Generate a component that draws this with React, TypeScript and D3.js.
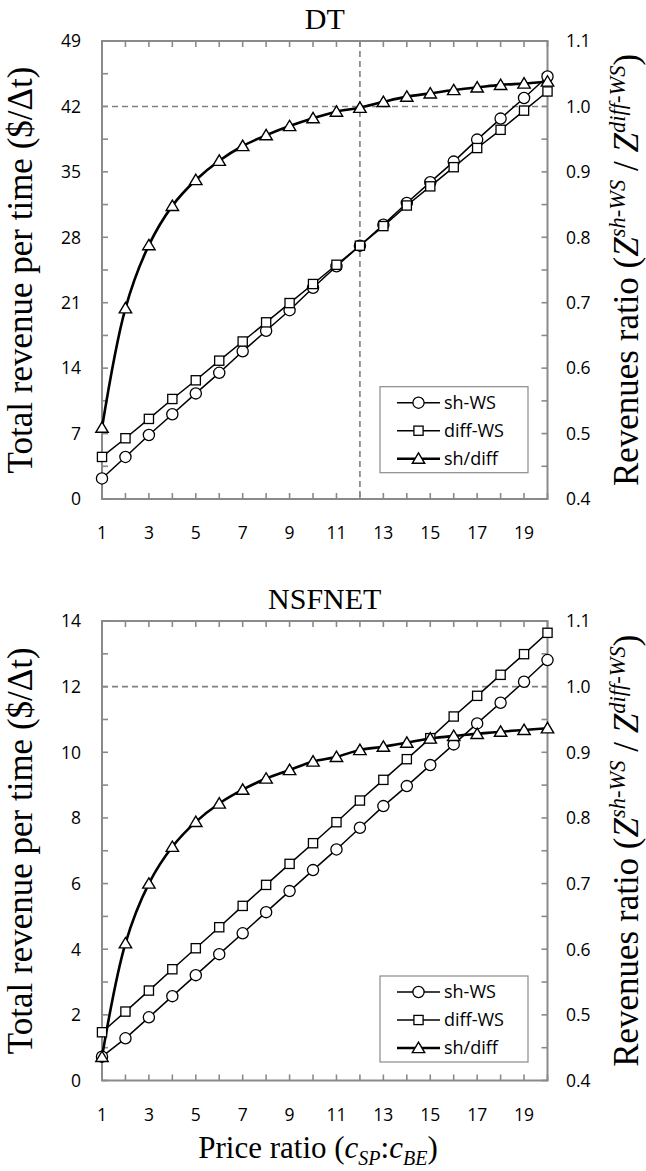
import React from "react";
import * as d3 from "d3";

const priceRatio = [1, 2, 3, 4, 5, 6, 7, 8, 9, 10, 11, 12, 13, 14, 15, 16, 17, 18, 19, 20];
const xTickLabels = [1, 3, 5, 7, 9, 11, 13, 15, 17, 19];

const dtShWS = [2.2, 4.5, 6.85, 9.07, 11.3, 13.5, 15.8, 18.0, 20.2, 22.6, 24.9, 27.1, 29.35, 31.67, 33.9, 36.1, 38.45, 40.7, 42.9, 45.2];
const dtDiffWS = [4.5, 6.5, 8.57, 10.7, 12.7, 14.8, 16.85, 18.9, 20.96, 23.0, 25.06, 27.1, 29.2, 31.4, 33.45, 35.5, 37.55, 39.5, 41.55, 43.6];
const dtRatio = [0.509, 0.6915, 0.788, 0.848, 0.8875, 0.917, 0.9395, 0.956, 0.97, 0.982, 0.992, 0.998, 1.007, 1.015, 1.02, 1.025, 1.029, 1.033, 1.035, 1.038];

const nsfShWS = [0.725, 1.285, 1.925, 2.57, 3.21, 3.85, 4.485, 5.13, 5.77, 6.41, 7.04, 7.7, 8.36, 8.97, 9.61, 10.24, 10.88, 11.51, 12.15, 12.81];
const nsfDiffWS = [1.47, 2.1, 2.74, 3.39, 4.03, 4.67, 5.32, 5.96, 6.6, 7.23, 7.87, 8.53, 9.16, 9.79, 10.43, 11.09, 11.72, 12.36, 12.99, 13.64];
const nsfRatio = [0.436, 0.609, 0.7, 0.756, 0.794, 0.822, 0.843, 0.86, 0.873, 0.886, 0.893, 0.9035, 0.9085, 0.9146, 0.921, 0.925, 0.928, 0.9314, 0.934, 0.9366];

const dtLeftTicks = [0, 7, 14, 21, 28, 35, 42, 49];
const nsfLeftTicks = [0, 2, 4, 6, 8, 10, 12, 14];
const rightTicks = [0.4, 0.5, 0.6, 0.7, 0.8, 0.9, 1.0, 1.1];
const legendLabels = ["sh-WS", "diff-WS", "sh/diff"];

const AXIS = "#8a8a8a";
const DASH = "#7f7f7f";
const SANS = "'Open Sans', 'Noto Sans', sans-serif";
const SERIF = "'Liberation Serif', 'Times New Roman', serif";

function Marker({ kind, x, y }: { kind: string; x: number; y: number }) {
  if (kind === "circle") return <circle cx={x} cy={y} r={5.6} fill="#fff" stroke="#000" strokeWidth={1.3} />;
  if (kind === "square") return <rect x={x - 4.6} y={y - 4.6} width={9.2} height={9.2} fill="#fff" stroke="#000" strokeWidth={1.3} />;
  return <path d={`M${x},${y - 5.8}L${x + 6.2},${y + 4.6}L${x - 6.2},${y + 4.6}Z`} fill="#fff" stroke="#000" strokeWidth={1.4} />;
}

type PanelProps = {
  title: string;
  top: number;
  bottom: number;
  leftMax: number;
  leftTicks: number[];
  leftMinorStep: number;
  sh: number[];
  diff: number[];
  ratio: number[];
  vLineAt: number | null;
  hLineAt: number;
  legendTop: number;
};

function Panel(p: PanelProps) {
  const left = 102;
  const right = 547.5;
  const x = d3.scaleLinear().domain([1, 20]).range([left, right]);
  const yL = d3.scaleLinear().domain([0, p.leftMax]).range([p.bottom, p.top]);
  const yR = d3.scaleLinear().domain([0.4, 1.1]).range([p.bottom, p.top]);
  const straight = d3.line<number>().x((_, i) => x(priceRatio[i])).y((d) => yL(d));
  const smooth = d3
    .line<number>()
    .x((_, i) => x(priceRatio[i]))
    .y((d) => yR(d))
    .curve(d3.curveCatmullRom.alpha(0.5));
  const leftMinor = d3.range(0, p.leftMax + 0.001, p.leftMinorStep);
  const rightMinor = d3.range(0.4, 1.1001, 0.05);
  const tickLen = 6;
  const midY = (p.top + p.bottom) / 2;
  const legX = 380;
  const legW = 148;
  return (
    <g>
      <text x={(left + right) / 2} y={p.top - 12.5} textAnchor="middle" fontFamily={SERIF} fontSize={30}>
        {p.title}
      </text>
      {/* reference lines */}
      <line x1={left} x2={right} y1={yL(p.hLineAt)} y2={yL(p.hLineAt)} stroke={DASH} strokeWidth={1.6} strokeDasharray="6,4" />
      {p.vLineAt !== null && (
        <line x1={x(p.vLineAt)} x2={x(p.vLineAt)} y1={p.top} y2={p.bottom} stroke={DASH} strokeWidth={1.6} strokeDasharray="6,4" />
      )}
      {/* frame */}
      <line x1={left} x2={left} y1={p.top} y2={p.bottom} stroke={AXIS} strokeWidth={2} />
      <line x1={right} x2={right} y1={p.top} y2={p.bottom} stroke={AXIS} strokeWidth={2} />
      <line x1={left - 1} x2={right + 1} y1={p.top} y2={p.top} stroke={AXIS} strokeWidth={2} />
      <line x1={left - 1} x2={right + 1} y1={p.bottom} y2={p.bottom} stroke={AXIS} strokeWidth={2} />
      {priceRatio.map((v) => (
        <g key={"xt" + v}>
          <line x1={x(v)} x2={x(v)} y1={p.bottom} y2={p.bottom - tickLen} stroke={AXIS} strokeWidth={1.6} />
          <line x1={x(v)} x2={x(v)} y1={p.top} y2={p.top + tickLen} stroke={AXIS} strokeWidth={1.6} />
        </g>
      ))}
      {leftMinor.map((v) => (
        <line key={"lt" + v} x1={left} x2={left + tickLen} y1={yL(v)} y2={yL(v)} stroke={AXIS} strokeWidth={1.6} />
      ))}
      {rightMinor.map((v) => (
        <line key={"rt" + v} x1={right} x2={right - tickLen} y1={yR(v)} y2={yR(v)} stroke={AXIS} strokeWidth={1.6} />
      ))}
      {p.leftTicks.map((v) => (
        <text key={"ll" + v} x={81} y={yL(v)} dy="0.36em" textAnchor="end" fontFamily={SANS} fontSize={17.5}>
          {v}
        </text>
      ))}
      {rightTicks.map((v) => (
        <text key={"rl" + v} x={566} y={yR(v)} dy="0.36em" textAnchor="start" fontFamily={SANS} fontSize={17.5}>
          {v.toFixed(1)}
        </text>
      ))}
      {xTickLabels.map((v) => (
        <text key={"xl" + v} x={x(v)} y={p.bottom + 34} dy="0.36em" textAnchor="middle" fontFamily={SANS} fontSize={17.5}>
          {v}
        </text>
      ))}
      {/* axis titles */}
      <text transform={`translate(20,${midY}) rotate(-90)`} dy="0.33em" textAnchor="middle" fontFamily={SERIF} fontSize={35}>
        Total revenue per time ($/Δt)
      </text>
      <text transform={`translate(626,${midY}) rotate(-90)`} dy="0.33em" textAnchor="middle" fontFamily={SERIF} fontSize={35}>
        <tspan>Revenues ratio (</tspan>
        <tspan fontStyle="italic">Z</tspan>
        <tspan fontStyle="italic" fontSize={22.5} dy="-13">sh-WS</tspan>
        <tspan dy="13"> / </tspan>
        <tspan fontStyle="italic">Z</tspan>
        <tspan fontStyle="italic" fontSize={22.5} dy="-13">diff-WS</tspan>
        <tspan dy="13">)</tspan>
      </text>
      {/* series */}
      <path d={straight(p.sh) || ""} fill="none" stroke="#000" strokeWidth={1.5} />
      <path d={straight(p.diff) || ""} fill="none" stroke="#000" strokeWidth={1.5} />
      <path d={smooth(p.ratio) || ""} fill="none" stroke="#000" strokeWidth={2.6} />
      {p.sh.map((v, i) => (
        <Marker key={"c" + i} kind="circle" x={x(priceRatio[i])} y={yL(v)} />
      ))}
      {p.diff.map((v, i) => (
        <Marker key={"s" + i} kind="square" x={x(priceRatio[i])} y={yL(v)} />
      ))}
      {p.ratio.map((v, i) => (
        <Marker key={"t" + i} kind="triangle" x={x(priceRatio[i])} y={yR(v)} />
      ))}
      {/* legend */}
      <rect x={legX} y={p.legendTop} width={legW} height={86} fill="#fff" stroke={AXIS} strokeWidth={1.2} />
      {legendLabels.map((lab, i) => {
        const ly = p.legendTop + 16 + i * 28;
        const kind = i === 0 ? "circle" : i === 1 ? "square" : "triangle";
        return (
          <g key={lab}>
            <line x1={legX + 17} x2={legX + 60} y1={ly} y2={ly} stroke="#000" strokeWidth={i === 2 ? 2.6 : 1.5} />
            <Marker kind={kind} x={legX + 38.5} y={ly} />
            <text x={legX + 64} y={ly} dy="0.36em" fontFamily={SANS} fontSize={18}>
              {lab}
            </text>
          </g>
        );
      })}
    </g>
  );
}

export default function App() {
  return (
    <svg
      width={646}
      height={1171}
      viewBox="0 0 646 1171"
      style={{ position: "absolute", left: 0, top: 0, background: "#fff" }}
    >
      <rect x={0} y={0} width={646} height={1171} fill="#fff" />
      <Panel
        title="DT"
        top={41}
        bottom={499}
        leftMax={49}
        leftTicks={dtLeftTicks}
        leftMinorStep={3.5}
        sh={dtShWS}
        diff={dtDiffWS}
        ratio={dtRatio}
        vLineAt={12}
        hLineAt={42}
        legendTop={386.7}
      />
      <Panel
        title="NSFNET"
        top={621}
        bottom={1080.5}
        leftMax={14}
        leftTicks={nsfLeftTicks}
        leftMinorStep={1}
        sh={nsfShWS}
        diff={nsfDiffWS}
        ratio={nsfRatio}
        vLineAt={null}
        hLineAt={12}
        legendTop={976}
      />
      <text x={318} y={1158} textAnchor="middle" fontFamily={SERIF} fontSize={31}>
        <tspan>Price ratio (</tspan>
        <tspan fontStyle="italic">c</tspan>
        <tspan fontStyle="italic" fontSize={20} dy="7">SP</tspan>
        <tspan dy="-7">:</tspan>
        <tspan fontStyle="italic">c</tspan>
        <tspan fontStyle="italic" fontSize={20} dy="7">BE</tspan>
        <tspan dy="-7">)</tspan>
      </text>
    </svg>
  );
}
